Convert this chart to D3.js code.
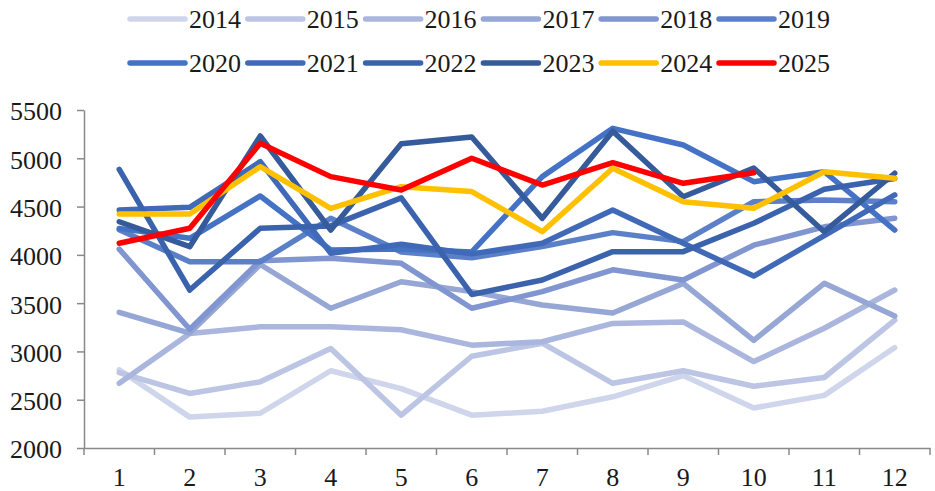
<!DOCTYPE html>
<html lang="zh">
<head>
<meta charset="UTF-8">
<title>月度走势 2014-2025</title>
<script src="https://cdn.jsdelivr.net/npm/d3@7/dist/d3.min.js"></script>
<style>
  body { margin: 0; background: #fff; }
  text { font-family: "Liberation Serif", "DejaVu Serif", serif; fill: #1a1a1a; }
</style>
</head>
<body>
<script>
// months on the x axis
var months = [1, 2, 3, 4, 5, 6, 7, 8, 9, 10, 11, 12];
var yTicks = [2000, 2500, 3000, 3500, 4000, 4500, 5000, 5500];

var years = ['2014', '2015', '2016', '2017', '2018', '2019',
             '2020', '2021', '2022', '2023', '2024', '2025'];
var colors = ['#cfd5ea', '#bcc5e4', '#aab6de', '#96a7d6', '#8196d0', '#5b80c8',
              '#4472c4', '#4069b8', '#3b63ad', '#355b9b', '#ffc000', '#ff0000'];

// values
var v2014 = [2810, 2320, 2360, 2800, 2615, 2340, 2380, 2530, 2750, 2415, 2545, 3040];
var v2015 = [2780, 2565, 2685, 3030, 2340, 2950, 3085, 2670, 2800, 2640, 2730, 3325];
var v2016 = [2670, 3185, 3255, 3255, 3225, 3065, 3100, 3290, 3305, 2895, 3240, 3636];
var v2017 = [3405, 3190, 3900, 3447, 3722, 3619, 3481, 3398, 3705, 3115, 3705, 3367];
var v2018 = [4060, 3230, 3940, 3964, 3912, 3447, 3619, 3845, 3740, 4100, 4290, 4378];
var v2019 = [4260, 3929, 3929, 4378, 4030, 3970, 4085, 4230, 4137, 4551, 4568, 4551];
var v2020 = [4274, 4171, 4610, 4050, 4060, 4030, 4810, 5310, 5138, 4758, 4861, 4257];
var v2021 = [4465, 4492, 4965, 4016, 4110, 4010, 4120, 4464, 4120, 3780, 4200, 4620];
var v2022 = [4886, 3636, 4275, 4300, 4590, 3590, 3740, 4033, 4033, 4327, 4679, 4790];
var v2023 = [4343, 4085, 5231, 4257, 5150, 5220, 4378, 5280, 4602, 4900, 4240, 4845];
var v2024 = [4423, 4423, 4913, 4482, 4706, 4655, 4240, 4896, 4551, 4482, 4861, 4793];
var v2025 = [4120, 4275, 5155, 4810, 4672, 5000, 4723, 4955, 4741, 4851];

var series = [v2014, v2015, v2016, v2017, v2018, v2019,
              v2020, v2021, v2022, v2023, v2024, v2025];

var W = 935, H = 491;
var mLeft = 84, mRight = 930, mTop = 110, mBottom = 448;

var svg = d3.select('body').append('svg')
  .attr('width', W)
  .attr('height', H);

var x = d3.scaleBand().domain(months).range([mLeft, mRight]).padding(0);
var y = d3.scaleLinear().domain([2000, 5500]).range([mBottom, mTop]);

// y axis
var yAxis = svg.append('g')
  .attr('transform', 'translate(' + mLeft + ',0)')
  .call(d3.axisLeft(y).tickValues(yTicks).tickFormat(d3.format('d'))
    .tickSize(7).tickPadding(15).tickSizeOuter(0));
yAxis.selectAll('text').attr('font-size', 26).attr('dy', '0.38em');

// x axis: labels under the category centres, ticks on the category edges
var xAxis = svg.append('g')
  .attr('transform', 'translate(0,' + mBottom + ')')
  .call(d3.axisBottom(x).tickSize(0).tickPadding(20).tickSizeOuter(0));
xAxis.selectAll('text').attr('font-size', 26);

var edges = months.map(function (m) { return x(m); }).concat([x(12) + x.bandwidth()]);
xAxis.selectAll('line.edge')
  .data(edges)
  .enter()
  .append('line')
  .attr('class', 'edge')
  .attr('x1', function (d) { return d; })
  .attr('x2', function (d) { return d; })
  .attr('y1', 0)
  .attr('y2', 7);

svg.selectAll('.domain, .tick line, line.edge')
  .attr('stroke', '#898989')
  .attr('stroke-width', 1.5);

// lines
var line = d3.line()
  .x(function (d, i) { return x(months[i]) + x.bandwidth() / 2; })
  .y(function (d) { return y(d); });

svg.append('g').selectAll('path')
  .data(series)
  .enter()
  .append('path')
  .attr('d', line)
  .attr('fill', 'none')
  .attr('stroke', function (d, i) { return colors[i]; })
  .attr('stroke-width', 5.5)
  .attr('stroke-linejoin', 'round')
  .attr('stroke-linecap', 'round');

// legend, two rows of six
var lg = svg.append('g').selectAll('g')
  .data(years)
  .enter()
  .append('g')
  .attr('transform', function (d, i) {
    return 'translate(' + (130 + (i % 6) * 117.8) + ',' + (19 + Math.floor(i / 6) * 44) + ')';
  });

lg.append('line')
  .attr('x1', 0)
  .attr('x2', 55)
  .attr('stroke', function (d, i) { return colors[i]; })
  .attr('stroke-width', 5.5)
  .attr('stroke-linecap', 'round');

lg.append('text')
  .attr('x', 59)
  .attr('dy', '0.35em')
  .attr('font-size', 26)
  .text(function (d) { return d; });
</script>
</body>
</html>
